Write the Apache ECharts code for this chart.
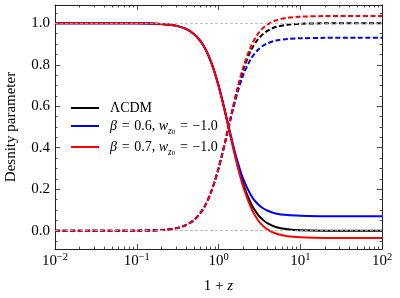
<!DOCTYPE html>
<html><head><meta charset="utf-8">
<script src="https://cdn.jsdelivr.net/npm/echarts@6/dist/echarts.min.js"></script>
<style>html,body{margin:0;padding:0;background:#fff}#c{width:400px;height:298px}</style>
</head><body><div id="c"></div>
<script>
// 1 + z sample points
const xValues = [0.01,0.02,0.05,0.1,0.2,0.3,0.4,0.5,0.6,0.7,0.8,0.9,1.0,1.1,1.2,1.3,1.4,1.5,1.7,2.0,2.5,3.0,3.5,4,5,7,10,20,50,100];
// LCDM
const lcdmDE = [1,1,1,1.000,0.997,0.989,0.973,0.949,0.915,0.872,0.820,0.762,0.700,0.637,0.575,0.515,0.460,0.409,0.322,0.226,0.130,0.080,0.052,0.035,0.018,0.007,0.002,0,0,0];
const lcdmM  = [0,0,0,0.000,0.003,0.011,0.027,0.051,0.085,0.128,0.180,0.238,0.300,0.363,0.425,0.485,0.540,0.591,0.678,0.774,0.870,0.920,0.948,0.965,0.982,0.993,0.998,1,1,1];
// beta = 0.6
const b06DE = [1,1,1,1.000,0.997,0.989,0.973,0.949,0.915,0.872,0.820,0.762,0.701,0.638,0.577,0.519,0.466,0.417,0.337,0.251,0.170,0.130,0.108,0.096,0.083,0.075,0.072,0.070,0.070,0.070];
const b06M  = [0,0,0,0.000,0.003,0.011,0.027,0.051,0.085,0.128,0.180,0.238,0.299,0.362,0.423,0.481,0.534,0.583,0.663,0.749,0.830,0.870,0.892,0.904,0.917,0.925,0.928,0.930,0.930,0.930];
// beta = 0.7
const b07DE = [1,1,1,1.000,0.997,0.989,0.973,0.949,0.915,0.872,0.820,0.762,0.700,0.636,0.573,0.513,0.457,0.405,0.315,0.213,0.110,0.054,0.023,0.005,-0.014,-0.027,-0.032,-0.035,-0.035,-0.035];
const b07M  = [0,0,0,0.000,0.003,0.011,0.027,0.051,0.085,0.128,0.180,0.238,0.300,0.364,0.427,0.487,0.543,0.595,0.685,0.787,0.890,0.946,0.977,0.995,1.014,1.027,1.032,1.035,1.035,1.035];

const xMajorTicks = [0.01,0.1,1,10,100];
const xMinorTicks = [];
[0.01,0.1,1,10].forEach(d => { for (let k = 2; k <= 9; k++) xMinorTicks.push(Number((k*d).toPrecision(3))); });
const yMajorTicks = [0,0.2,0.4,0.6,0.8,1.0];
const yMinorTicks = [-0.05,0.05,0.1,0.15,0.25,0.3,0.35,0.45,0.5,0.55,0.65,0.7,0.75,0.85,0.9,0.95,1.05];
const refLines = [0, 1];

const FONT = '"Liberation Serif","DejaVu Serif",serif';
const AX = '#222';
const pair = (ys) => xValues.map((x, i) => [x, ys[i]]);

const xBase = (pos, ticks, len, line) => ({
  type: 'log', logBase: 10, min: 0.01, max: 100, position: pos, gridIndex: 0,
  axisLine: {show: line, onZero: false, lineStyle: {color: AX, width: 1}},
  axisTick: {show: true, inside: true, length: len, customValues: ticks, lineStyle: {color: AX, width: 0.8}},
  axisLabel: {show: false}, splitLine: {show: false}, minorTick: {show: false}
});
const yBase = (pos, ticks, len, line) => ({
  type: 'value', min: -0.0885, max: 1.0885, position: pos, gridIndex: 0,
  axisLine: {show: line, onZero: false, lineStyle: {color: AX, width: 1}},
  axisTick: {show: true, inside: true, length: len, customValues: ticks, lineStyle: {color: AX, width: 0.8}},
  axisLabel: {show: false}, splitLine: {show: false}
});

const x0 = xBase('bottom', xMajorTicks, 5, true);
x0.axisLabel = {
  show: true, customValues: xMajorTicks, margin: 3,
  formatter: v => '{b|10}{s|' + String(Math.round(Math.log10(v))).replace('-', '\u2212') + '}',
  rich: {
    b: {fontFamily: FONT, fontSize: 15, color: '#000', lineHeight: 18},
    s: {fontFamily: FONT, fontSize: 10.5, color: '#000', lineHeight: 11, verticalAlign: 'top'}
  }
};
x0.name = '{n|1 + }{i|z}';
x0.nameLocation = 'middle';
x0.nameGap = 30;
x0.nameTextStyle = {rich: {
  n: {fontFamily: FONT, fontSize: 15, color: '#000'},
  i: {fontFamily: FONT, fontSize: 15, fontStyle: 'italic', color: '#000'}
}};

const y0 = yBase('left', yMajorTicks, 5, true);
y0.axisLabel = {
  show: true, customValues: yMajorTicks, margin: 5,
  formatter: v => v.toFixed(1),
  fontFamily: FONT, fontSize: 15, color: '#000'
};
y0.name = 'Desnity parameter';
y0.nameLocation = 'middle';
y0.nameGap = 36;
y0.nameTextStyle = {fontFamily: FONT, fontSize: 15, color: '#000'};

const legendRich = {
  sp: {width: 6},
  t: {fontFamily: FONT, fontSize: 14, color: '#000', lineHeight: 14},
  n: {fontFamily: FONT, fontSize: 14, color: '#000', lineHeight: 20},
  i: {fontFamily: FONT, fontSize: 14, fontStyle: 'italic', color: '#000', lineHeight: 20},
  sub: {fontFamily: FONT, fontSize: 9.5, fontStyle: 'italic', color: '#000', lineHeight: 10, verticalAlign: 'bottom'},
  sub2: {fontFamily: FONT, fontSize: 7, color: '#000', lineHeight: 6, verticalAlign: 'bottom'}
};
const legendNames = ['\u039bCDM', '\u03b2 = 0.6, w_z0 = \u22121.0', '\u03b2 = 0.7, w_z0 = \u22121.0'];
const legendFmt = name => {
  if (name === legendNames[0]) return '{sp|}{t|\u039bCDM}';
  const b = name.slice(4, 7);
  return '{sp|}{i|\u03b2}{n|\u2004=\u2004' + b + ', }{i|w}{sub|z}{sub2|0}{n|\u2004=\u2004\u22121.0}';
};

const solid = (name, data, color, z) => ({
  name, type: 'line', data: pair(data), xAxisIndex: 0, yAxisIndex: 0,
  symbol: 'none', smooth: 0.3, z, lineStyle: {color, width: 2}, itemStyle: {color}
});
const dashed = (name, data, color, z) => ({
  name, type: 'line', data: pair(data), xAxisIndex: 0, yAxisIndex: 0,
  symbol: 'none', smooth: 0.3, z, lineStyle: {color, width: 2, type: [5, 2.5]}, itemStyle: {color}
});

const option = {
  animation: false,
  backgroundColor: '#fff',
  grid: {left: 55, right: 18, top: 5, bottom: 49, containLabel: false, outerBoundsMode: 'none'},
  xAxis: [x0, xBase('bottom', xMinorTicks, 2.5, false), xBase('top', xMajorTicks, 5, true), xBase('top', xMinorTicks, 2.5, false)],
  yAxis: [y0, yBase('left', yMinorTicks, 2.5, false), yBase('right', yMajorTicks, 5, true), yBase('right', yMinorTicks, 2.5, false)],
  legend: {
    data: legendNames, orient: 'vertical', left: 66, top: 96,
    icon: 'rect', itemWidth: 28, itemHeight: 2, itemGap: 4, formatter: legendFmt,
    textStyle: {rich: legendRich},
    selectedMode: false
  },
  series: [
    {
      name: 'ref', type: 'line', data: [], xAxisIndex: 0, yAxisIndex: 0, z: 1,
      markLine: {silent: true, symbol: 'none', label: {show: false},
        lineStyle: {color: '#b0b0b0', width: 0.8, type: [3, 2]},
        data: refLines.map(v => ({yAxis: v}))}
    },
    solid(legendNames[0], lcdmDE, '#000000', 2),
    dashed('lcdm_m', lcdmM, '#000000', 2),
    solid(legendNames[1], b06DE, '#0000ff', 3),
    dashed('b06_m', b06M, '#0000ff', 3),
    solid(legendNames[2], b07DE, '#ff0000', 4),
    dashed('b07_m', b07M, '#ff0000', 4)
  ]
};
const chart = echarts.init(document.getElementById('c'), null, {renderer: 'canvas'});
chart.setOption(option);
</script></body></html>
